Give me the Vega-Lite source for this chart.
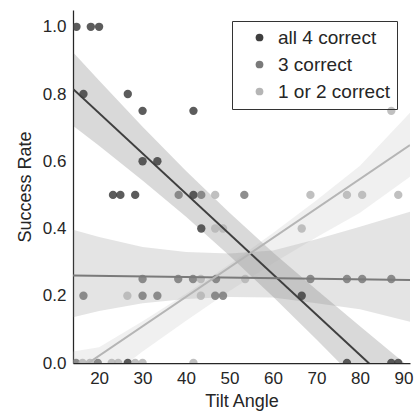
{
  "$schema": "https://vega.github.io/schema/vega-lite/v6.json",
  "width": 337,
  "height": 353,
  "autosize": "none",
  "padding": {"left": 73, "top": 10, "right": 6, "bottom": 48},
  "background": "white",
  "config": {
    "view": {"stroke": null},
    "font": "Liberation Sans",
    "axis": {
      "domainColor": "#262626",
      "domainWidth": 1.25,
      "ticks": false,
      "grid": false,
      "labelColor": "#262626",
      "titleColor": "#262626",
      "labelFontSize": 17,
      "titleFontSize": 18,
      "titleFontWeight": "normal",
      "labelPadding": 7
    }
  },
  "resolve": {"legend": {"color": "independent"}},
  "datasets": {
    "points": [
      {"x": 14.8, "y": 1.0, "group": "all 4 correct"},
      {"x": 18.1, "y": 1.0, "group": "all 4 correct"},
      {"x": 20.0, "y": 1.0, "group": "all 4 correct"},
      {"x": 16.4, "y": 0.8, "group": "all 4 correct"},
      {"x": 26.6, "y": 0.8, "group": "all 4 correct"},
      {"x": 30.0, "y": 0.75, "group": "all 4 correct"},
      {"x": 41.7, "y": 0.75, "group": "all 4 correct"},
      {"x": 30.0, "y": 0.6, "group": "all 4 correct"},
      {"x": 33.4, "y": 0.6, "group": "all 4 correct"},
      {"x": 23.2, "y": 0.5, "group": "all 4 correct"},
      {"x": 24.9, "y": 0.5, "group": "all 4 correct"},
      {"x": 28.3, "y": 0.5, "group": "all 4 correct"},
      {"x": 41.7, "y": 0.5, "group": "all 4 correct"},
      {"x": 43.5, "y": 0.4, "group": "all 4 correct"},
      {"x": 66.6, "y": 0.2, "group": "all 4 correct"},
      {"x": 77.0, "y": 0.0, "group": "all 4 correct"},
      {"x": 87.2, "y": 0.0, "group": "all 4 correct"},
      {"x": 88.8, "y": 0.0, "group": "all 4 correct"},
      {"x": 26.6, "y": 0.0, "group": "all 4 correct"},
      {"x": 38.3, "y": 0.5, "group": "3 correct"},
      {"x": 43.5, "y": 0.5, "group": "3 correct"},
      {"x": 53.4, "y": 0.5, "group": "3 correct"},
      {"x": 16.4, "y": 0.2, "group": "3 correct"},
      {"x": 30.0, "y": 0.25, "group": "3 correct"},
      {"x": 38.2, "y": 0.25, "group": "3 correct"},
      {"x": 41.6, "y": 0.25, "group": "3 correct"},
      {"x": 46.9, "y": 0.25, "group": "3 correct"},
      {"x": 68.6, "y": 0.25, "group": "3 correct"},
      {"x": 77.0, "y": 0.25, "group": "3 correct"},
      {"x": 80.5, "y": 0.25, "group": "3 correct"},
      {"x": 87.2, "y": 0.25, "group": "3 correct"},
      {"x": 30.0, "y": 0.2, "group": "3 correct"},
      {"x": 33.4, "y": 0.2, "group": "3 correct"},
      {"x": 46.7, "y": 0.2, "group": "3 correct"},
      {"x": 48.5, "y": 0.2, "group": "3 correct"},
      {"x": 14.7, "y": 0.0, "group": "3 correct"},
      {"x": 19.7, "y": 0.0, "group": "3 correct"},
      {"x": 46.7, "y": 0.5, "group": "1 or 2 correct"},
      {"x": 68.6, "y": 0.5, "group": "1 or 2 correct"},
      {"x": 77.0, "y": 0.5, "group": "1 or 2 correct"},
      {"x": 80.5, "y": 0.5, "group": "1 or 2 correct"},
      {"x": 88.8, "y": 0.5, "group": "1 or 2 correct"},
      {"x": 87.2, "y": 0.75, "group": "1 or 2 correct"},
      {"x": 66.6, "y": 0.4, "group": "1 or 2 correct"},
      {"x": 46.7, "y": 0.4, "group": "1 or 2 correct"},
      {"x": 48.5, "y": 0.4, "group": "1 or 2 correct"},
      {"x": 43.4, "y": 0.25, "group": "1 or 2 correct"},
      {"x": 53.6, "y": 0.25, "group": "1 or 2 correct"},
      {"x": 26.5, "y": 0.2, "group": "1 or 2 correct"},
      {"x": 43.4, "y": 0.2, "group": "1 or 2 correct"},
      {"x": 41.7, "y": 0.0, "group": "1 or 2 correct"},
      {"x": 16.2, "y": 0.0, "group": "1 or 2 correct"},
      {"x": 17.9, "y": 0.0, "group": "1 or 2 correct"},
      {"x": 22.9, "y": 0.0, "group": "1 or 2 correct"},
      {"x": 24.4, "y": 0.0, "group": "1 or 2 correct"},
      {"x": 28.3, "y": 0.0, "group": "1 or 2 correct"},
      {"x": 30.0, "y": 0.0, "group": "1 or 2 correct"}
    ],
    "lines": [
      {"x": 14, "y": 0.815, "group": "all 4 correct"},
      {"x": 91.5, "y": -0.114, "group": "all 4 correct"},
      {"x": 14, "y": 0.26, "group": "3 correct"},
      {"x": 91.5, "y": 0.247, "group": "3 correct"},
      {"x": 14, "y": -0.031, "group": "1 or 2 correct"},
      {"x": 91.5, "y": 0.648, "group": "1 or 2 correct"}
    ],
    "bands": [
      {"x": 14, "lo": 0.706, "hi": 0.924, "group": "all 4 correct"},
      {"x": 20, "lo": 0.646, "hi": 0.840, "group": "all 4 correct"},
      {"x": 30, "lo": 0.543, "hi": 0.703, "group": "all 4 correct"},
      {"x": 40, "lo": 0.435, "hi": 0.571, "group": "all 4 correct"},
      {"x": 50, "lo": 0.319, "hi": 0.447, "group": "all 4 correct"},
      {"x": 60, "lo": 0.197, "hi": 0.329, "group": "all 4 correct"},
      {"x": 70, "lo": 0.070, "hi": 0.218, "group": "all 4 correct"},
      {"x": 80, "lo": -0.061, "hi": 0.109, "group": "all 4 correct"},
      {"x": 91.5, "lo": -0.214, "hi": -0.014, "group": "all 4 correct"},
      {"x": 14, "lo": 0.136, "hi": 0.396, "group": "3 correct"},
      {"x": 20, "lo": 0.155, "hi": 0.375, "group": "3 correct"},
      {"x": 30, "lo": 0.178, "hi": 0.345, "group": "3 correct"},
      {"x": 40, "lo": 0.190, "hi": 0.330, "group": "3 correct"},
      {"x": 50, "lo": 0.196, "hi": 0.326, "group": "3 correct"},
      {"x": 60, "lo": 0.195, "hi": 0.335, "group": "3 correct"},
      {"x": 70, "lo": 0.178, "hi": 0.368, "group": "3 correct"},
      {"x": 80, "lo": 0.160, "hi": 0.405, "group": "3 correct"},
      {"x": 91.5, "lo": 0.123, "hi": 0.450, "group": "3 correct"},
      {"x": 14, "lo": -0.096, "hi": 0.034, "group": "1 or 2 correct"},
      {"x": 20, "lo": -0.064, "hi": 0.047, "group": "1 or 2 correct"},
      {"x": 30, "lo": 0.034, "hi": 0.124, "group": "1 or 2 correct"},
      {"x": 40, "lo": 0.126, "hi": 0.206, "group": "1 or 2 correct"},
      {"x": 50, "lo": 0.214, "hi": 0.294, "group": "1 or 2 correct"},
      {"x": 60, "lo": 0.297, "hi": 0.387, "group": "1 or 2 correct"},
      {"x": 70, "lo": 0.374, "hi": 0.484, "group": "1 or 2 correct"},
      {"x": 80, "lo": 0.447, "hi": 0.587, "group": "1 or 2 correct"},
      {"x": 91.5, "lo": 0.554, "hi": 0.744, "group": "1 or 2 correct"}
    ]
  },
  "layer": [
    {
      "data": {"name": "bands"},
      "mark": {"type": "area", "clip": true, "opacity": 0.2},
      "encoding": {
        "x": {"field": "x", "type": "quantitative",
              "scale": {"domain": [14, 91.5], "nice": false, "zero": false},
              "axis": {"title": "Tilt Angle", "values": [20, 30, 40, 50, 60, 70, 80, 90], "titlePadding": 6}},
        "y": {"field": "lo", "type": "quantitative",
              "scale": {"domain": [0, 1.05], "nice": false},
              "axis": {"title": "Success Rate", "values": [0, 0.2, 0.4, 0.6, 0.8, 1.0], "format": ".1f", "titlePadding": 8}},
        "y2": {"field": "hi"},
        "color": {"field": "group", "type": "nominal",
                  "scale": {"domain": ["all 4 correct", "3 correct", "1 or 2 correct"], "range": ["#3f3f3f", "#7a7a7a", "#b5b5b5"]},
                  "legend": null}
      }
    },
    {
      "data": {"name": "points"},
      "mark": {"type": "point", "filled": true, "shape": "circle", "size": 70, "opacity": 0.85, "clip": true},
      "encoding": {
        "x": {"field": "x", "type": "quantitative"},
        "y": {"field": "y", "type": "quantitative"},
        "color": {"field": "group", "type": "nominal",
                  "legend": {"orient": "none", "legendX": 159, "legendY": 11, "title": null,
                             "strokeColor": "#333333", "padding": 7, "symbolOffset": 11,
                             "labelFontSize": 19, "labelColor": "#262626", "labelOffset": 9,
                             "symbolSize": 60, "symbolType": "circle", "symbolOpacity": 1,
                             "rowPadding": 7, "labelLimit": 300}}
      }
    },
    {
      "data": {"name": "lines"},
      "mark": {"type": "line", "clip": true, "strokeWidth": 2},
      "encoding": {
        "x": {"field": "x", "type": "quantitative"},
        "y": {"field": "y", "type": "quantitative"},
        "color": {"field": "group", "type": "nominal", "legend": null}
      }
    }
  ]
}
